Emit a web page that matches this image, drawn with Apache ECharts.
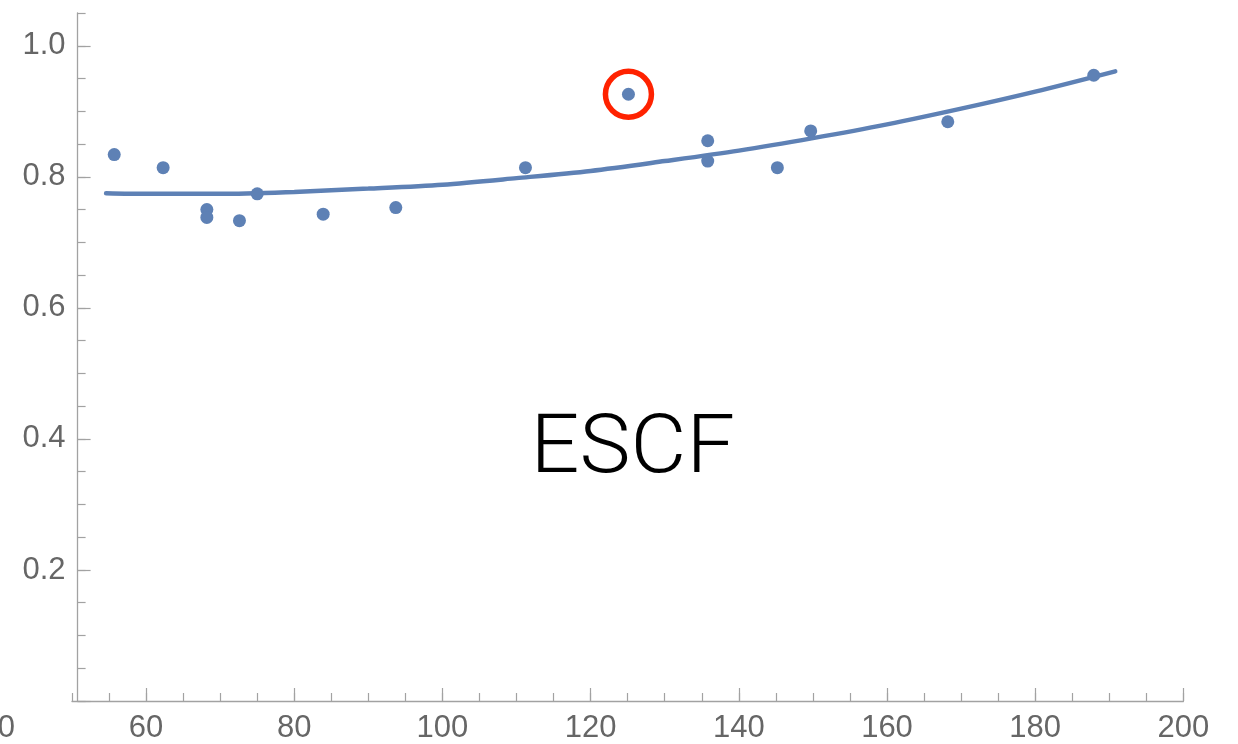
<!DOCTYPE html>
<html>
<head>
<meta charset="utf-8">
<title>ESCF</title>
<script src="https://cdn.jsdelivr.net/npm/echarts@6/dist/echarts.min.js"></script>
<style>
  html, body { margin: 0; padding: 0; background: #ffffff; }
  #chart { width: 1238px; height: 744px; }
</style>
</head>
<body>
<div id="chart"></div>
<script>
// Measured samples
const pointX = [55.7, 62.3, 68.2, 68.2, 72.6, 75.0, 83.9, 93.7, 111.2, 125.1, 135.8, 135.8, 145.2, 149.7, 168.2, 187.9];
const pointY = [0.834, 0.814, 0.750, 0.738, 0.733, 0.774, 0.743, 0.753, 0.814, 0.926, 0.855, 0.824, 0.814, 0.870, 0.884, 0.955];

// Fitted trend curve, read at regular positions
const fitX = [54.6, 60, 70, 80, 90, 100, 110, 120, 130, 140, 150, 160, 170, 180, 190.8];
const fitY = [0.775, 0.774, 0.774, 0.777, 0.782, 0.788, 0.798, 0.809, 0.824, 0.840, 0.859, 0.880, 0.904, 0.930, 0.961];

// Index of the sample singled out with a ring
const outlierIndex = 9;

const panelTitle = 'ESCF';

const blue = '#5E81B5';
const axisGray = '#a2a2a2';
const labelGray = '#666666';
const labelFont = '"Liberation Sans", Arial, sans-serif';

const chart = echarts.init(document.getElementById('chart'), null, { renderer: 'canvas' });

const hiddenAxis = { show: false };

chart.setOption({
  animation: false,
  backgroundColor: '#ffffff',
  grid: [
    // plotting area and minor ticks
    { left: 72, right: 54.6, top: 13, bottom: 43, outerBoundsMode: 'none', containLabel: false },
    // major x ticks + labels
    { left: -2.2, right: 54.6, top: 13, bottom: 43, outerBoundsMode: 'none', containLabel: false },
    // major y ticks + labels
    { left: 77.6, right: 54.6, top: 45.8, bottom: 43, outerBoundsMode: 'none', containLabel: false }
  ],
  xAxis: [
    {
      gridIndex: 0, type: 'value', min: 50, max: 200, interval: 5,
      axisLine: { show: true, lineStyle: { color: axisGray, width: 1.3 } },
      axisTick: { show: true, inside: true, length: 8, lineStyle: { color: axisGray, width: 1.2 } },
      axisLabel: { show: false },
      splitLine: { show: false }
    },
    {
      gridIndex: 1, type: 'value', min: 40, max: 200, interval: 20,
      axisLine: { show: false },
      axisTick: { show: true, inside: true, length: 13, lineStyle: { color: axisGray, width: 1.2 } },
      axisLabel: { show: true, color: labelGray, fontSize: 31, fontFamily: labelFont, margin: 12, hideOverlap: false },
      splitLine: { show: false }
    },
    Object.assign({ gridIndex: 2, type: 'value', min: 0, max: 1 }, hiddenAxis)
  ],
  yAxis: [
    {
      gridIndex: 0, type: 'value', min: 0, max: 1.05, interval: 0.05, offset: -5.6,
      axisLine: { show: true, lineStyle: { color: axisGray, width: 1.3 } },
      axisTick: { show: true, inside: true, length: 8, lineStyle: { color: axisGray, width: 1.2 } },
      axisLabel: { show: false },
      splitLine: { show: false }
    },
    Object.assign({ gridIndex: 1, type: 'value', min: 0, max: 1 }, hiddenAxis),
    {
      gridIndex: 2, type: 'value', min: 0, max: 1, interval: 0.2,
      axisLine: { show: false },
      axisTick: { show: true, inside: true, length: 13, lineStyle: { color: axisGray, width: 1.2 } },
      axisLabel: {
        show: true, color: labelGray, fontSize: 31, fontFamily: labelFont, margin: 12,
        formatter: v => (v === 0 ? '' : v.toFixed(1))
      },
      splitLine: { show: false }
    }
  ],
  graphic: [
    {
      type: 'text',
      x: 632.7,
      y: 451,
      scaleX: 1.05,
      style: {
        text: panelTitle,
        x: 0, y: 0,
        fill: '#000000',
        font: '300 82px Roboto, "Liberation Sans", sans-serif',
        align: 'center',
        verticalAlign: 'middle'
      },
      silent: true
    }
  ],
  series: [
    {
      type: 'line',
      xAxisIndex: 0, yAxisIndex: 0,
      data: fitX.map((x, i) => [x, fitY[i]]),
      smooth: 0.3,
      showSymbol: false,
      lineStyle: { color: blue, width: 4.5, cap: 'round' },
      z: 2
    },
    {
      type: 'scatter',
      xAxisIndex: 0, yAxisIndex: 0,
      data: pointX.map((x, i) => [x, pointY[i]]),
      symbol: 'circle',
      symbolSize: 13,
      itemStyle: { color: blue, opacity: 1 },
      z: 3
    },
    {
      type: 'scatter',
      xAxisIndex: 0, yAxisIndex: 0,
      data: [[pointX[outlierIndex], pointY[outlierIndex]]],
      symbol: 'circle',
      symbolSize: 46,
      itemStyle: { color: 'rgba(0,0,0,0)', borderColor: '#ff2200', borderWidth: 5.5, opacity: 1 },
      z: 4
    }
  ]
});
</script>
</body>
</html>
